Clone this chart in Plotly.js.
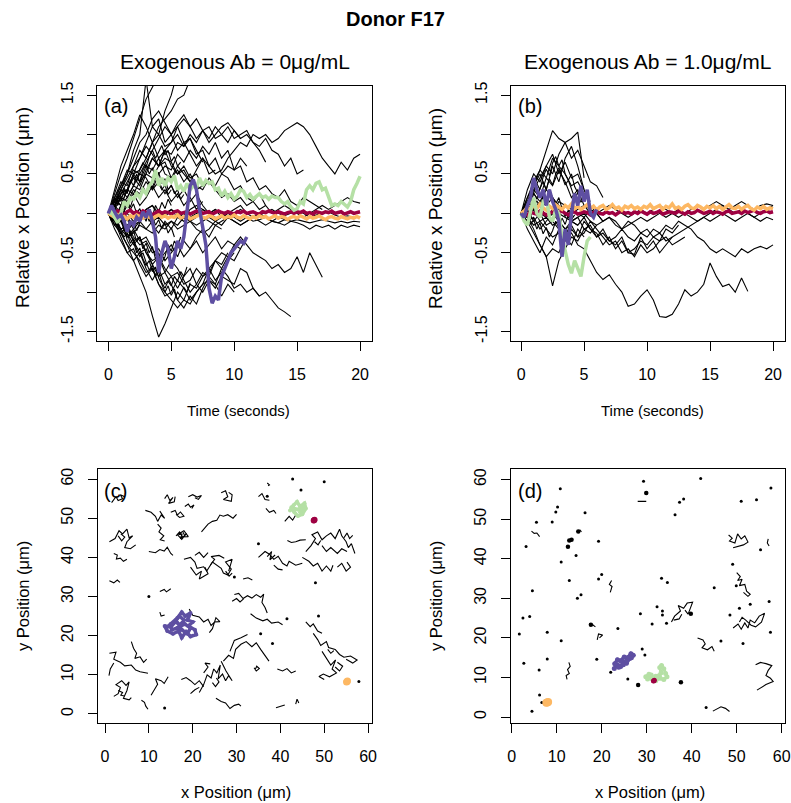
<!DOCTYPE html>
<html><head><meta charset="utf-8">
<script src="https://cdn.plot.ly/plotly-3.0.1.min.js"></script>
<style>html,body{margin:0;padding:0;background:#fff}</style>
</head><body><div id="chart" style="width:791px;height:803px"></div>
<script>
// ---------- DATA ----------
// time grids (seconds)
const T05 = [0,0.5,1,1.5,2,2.5,3,3.5,4,4.5,5,5.5,6,6.5,7,7.5,8,8.5,9,9.5,10,10.5,11,11.5,12,12.5,13,13.5,14,14.5,15,15.5,16,16.5,17,17.5,18,18.5,19,19.5,20];
const T025 = [0,0.25,0.5,0.75,1,1.25,1.5,1.75,2,2.25,2.5,2.75,3,3.25,3.5,3.75,4,4.25,4.5,4.75,5,5.25,5.5,5.75,6,6.25,6.5,6.75,7,7.25,7.5,7.75,8,8.25,8.5,8.75,9,9.25,9.5,9.75,10,10.25,10.5,10.75,11,11.25,11.5,11.75,12,12.25,12.5,12.75,13,13.25,13.5,13.75,14,14.25,14.5,14.75,15,15.25,15.5,15.75,16,16.25,16.5,16.75,17,17.25,17.5,17.75,18,18.25,18.5,18.75,19,19.25,19.5,19.75,20];

// panel (a): relative x position, black trajectories (0.5 s steps)
const blackA = [
 [0,0.1,0.25,0.3,0.5,0.4,0.6,0.55,0.7,0.5,0.45,0.6,0.5,0.4,0.55,0.7,0.6,0.5,0.55,0.7,0.8,0.9,0.85,1.0,0.95,1.0,0.9,0.95,1.05,1.1,1.15,1.1,1.0,0.85,0.7,0.6,0.5,0.65,0.55,0.7,0.75],
 [0,-0.05,0.1,0.2,0.35,0.3,0.5,0.7,0.6,0.8,0.75,0.9,0.85,1.0,0.9,1.05,1.1,0.95,1.0,1.1,0.95,1.0,1.05,0.9,0.8,0.65],
 [0,-0.1,-0.2,-0.15,-0.3,-0.4,-0.35,-0.5,-0.45,-0.6,-0.5,-0.4,-0.55,-0.45,-0.35,-0.5,-0.4,-0.3,-0.45,-0.35,-0.4,-0.3,-0.4,-0.5,-0.55,-0.6,-0.7,-0.65,-0.75,-0.7,-0.55,-0.75,-0.5,-0.65,-0.81],
 [0,0.05,-0.1,-0.2,-0.35,-0.3,-0.5,-0.6,-0.55,-0.7,-0.8,-0.75,-0.9,-0.85,-0.7,-0.8,-0.75,-0.6,-0.7,-0.8,-0.95,-0.9,-1.0,-0.95,-1.05,-1.0,-1.1,-1.2,-1.25,-1.31],
 [0,-0.15,-0.25,-0.4,-0.5,-0.6,-0.75,-0.7,-0.9,-1.0,-1.1,-1.2,-1.1,-1.15,-1.0,-0.9,-0.85,-0.95,-0.8,-0.85,-0.9,-0.7,-0.75,-0.95,-1.05],
 [0,-0.1,-0.3,-0.5,-0.6,-0.8,-1.0,-1.3,-1.57,-1.4,-1.2,-1.0,-1.1,-0.9,-0.95,-0.8,-0.7,-0.85,-0.75,-0.6,-0.5],
 [0,0.2,0.35,0.5,0.8,1.0,1.7,1.1,1.2,0.9,1.0,0.8,0.9,0.75,0.6,0.7,0.5,0.55],
 [0,0.1,0.3,0.45,0.6,0.7,0.9,1.1,1.0,1.3,1.5,1.8],
 [0,0.15,0.1,0.3,0.5,0.55,0.7,0.9,1.1,1.2,1.3,1.45,1.5,1.7,1.9],
 [0,0.3,0.6,0.8,1.0,1.25,1.1,0.9,0.7,0.8,0.6,0.5,0.55,0.4,0.3,0.35],
 [0,0.2,0.4,0.35,0.6,0.8,0.7,0.9,1.0,0.85,0.9,1.1,1.2,1.1,0.95,1.05,0.9,1.0,1.1,1.15,1.05,0.95,1.0,0.9,0.85,0.95,0.8,0.75,0.6,0.7,0.5,0.55],
 [0,0.1,0.2,0.3,0.25,0.4,0.5,0.45,0.6,0.7,0.65,0.5,0.6,0.45,0.5,0.35,0.4,0.3,0.2,0.25,0.15,0.2,0.1,0.15,0.05,0.1,0.0,0.05,0.1,0.05,0.0,-0.05,0.0,0.05,0.1,0.05,0.1,0.15,0.2,0.15,0.13],
 [0,0.05,-0.05,0.1,0.0,-0.1,0.05,0.1,-0.05,0.0,0.05,-0.05,-0.1,-0.05,0.0,-0.05,-0.1,-0.15,-0.1,-0.05,-0.1,-0.15,-0.1,-0.05,-0.1,-0.15,-0.1,-0.12,-0.15,-0.1,-0.12,-0.15,-0.2,-0.15,-0.18,-0.15,-0.2,-0.15,-0.18,-0.15,-0.17],
 [0,-0.05,0.05,0.0,-0.1,-0.05,0.05,0.1,0.0,-0.05,0.05,0.0,-0.05,0.05,0.1,0.05,0.0,0.05,0.0,-0.05,0.0,0.05,0.0,-0.05,-0.02,0.02,0.05,0.0,-0.03,0.0,0.03,0.0,-0.05,-0.02,0.0,0.02,-0.02,-0.05,-0.03,-0.05,-0.05],
 [0,-0.1,-0.2,-0.3,-0.25,-0.15,-0.2,-0.1,-0.05,-0.15,-0.1,-0.2,-0.15,-0.1,-0.2,-0.25,-0.2,-0.1,-0.15,-0.05,-0.1,-0.15,-0.1,-0.05,0.0,-0.05,-0.1,-0.05,-0.08,-0.1],
 [0,-0.2,-0.35,-0.5,-0.45,-0.65,-0.8,-0.7,-0.9,-1.05,-1.0,-0.85,-0.95,-1.1,-1.0,-0.9,-0.7,-0.6,-0.65,-0.5],
 [0,0.1,-0.1,-0.25,-0.4,-0.3,-0.5,-0.65,-0.55,-0.75,-0.9,-1.1,-1.2,-1.05,-1.15,-0.95,-0.8,-0.9,-0.7,-0.55,-0.6,-0.45],
 [0,0.2,0.1,0.3,0.45,0.35,0.55,0.7,0.6,0.8,0.9,1.0,0.85,0.95,0.75,0.8,0.6,0.7,0.5,0.45,0.3,0.35,0.2,0.15,0.25,0.1],
 [0,-0.1,0.05,-0.05,-0.2,-0.35,-0.3,-0.45,-0.6,-0.5,-0.4,-0.55,-0.35,-0.45,-0.3,-0.2,-0.3,-0.15,-0.2],
 [0,0.15,0.3,0.2,0.35,0.5,0.45,0.3,0.4,0.25,0.35,0.2,0.3,0.15,0.25,0.1,0.0,0.05,-0.05,0.0,0.05,0.1,0.0],
 [0,0.1,0.3,0.5,0.7,0.9,1.0,1.2,1.3,1.15,1.0,1.1,0.9,0.95,0.8,0.65],
 [0,0.25,0.5,0.7,0.95,1.2,1.45,1.6,1.75],
 [0,-0.05,-0.2,-0.15,-0.35,-0.5,-0.45,-0.65,-0.8,-0.75,-0.6,-0.7,-0.85,-1.0,-0.9,-0.75,-0.8,-0.6,-0.5,-0.55,-0.4,-0.45,-0.3],
 [0,0.05,0.2,0.15,0.3,0.25,0.4,0.3,0.5,0.6,0.55,0.75,0.65,0.8,0.7,0.85,0.75,0.9,0.7,0.8,0.55,0.6,0.4,0.45,0.3,0.35,0.25,0.2,0.3,0.15,0.1,0.2,0.15,0.1,0.05],
 [0,-0.15,-0.1,-0.3,-0.2,-0.1,0.0,-0.15,-0.25,-0.1,-0.2,-0.05,0.0,-0.1,-0.05,0.05,0.0,-0.05],
 [0,0.1,0.0,0.15,0.25,0.1,0.2,0.35,0.2,0.3,0.15,0.25,0.1,0.2,0.05,0.15],
 [0,-0.1,-0.25,-0.4,-0.6,-0.5,-0.7,-0.85,-0.7,-0.9,-0.8,-0.95,-0.8,-0.7,-0.9,-1.0,-0.85,-0.9,-1.05,-0.9,-1.0],
 [0,0.15,0.35,0.55,0.5,0.7,0.85,0.75,0.6,0.65,0.45,0.55,0.4,0.5,0.35,0.3,0.45,0.35,0.5,0.6,0.55,0.7,0.6],
 [0,0.05,-0.1,-0.05,-0.15,-0.1,-0.2,-0.25,-0.15,-0.2,-0.1,-0.15,-0.05,-0.1,-0.15,-0.1,-0.05,-0.1,-0.05,0.0,-0.05,-0.1,-0.05,-0.1,-0.08,-0.05,-0.1,-0.12,-0.08,-0.1,-0.08,-0.1,-0.12,-0.1,-0.08,-0.1,-0.12,-0.1,-0.12,-0.1,-0.11],
 [0,0.1,0.25,0.4,0.55,0.5,0.65,0.8,0.95,1.1,1.0,1.15,1.25,1.1,1.2,1.05,0.95,1.1,1.0,0.9,1.05,0.95]
];
// panel (a): short jagged black trajectories (0.25 s steps)
const blackAfine = [
 [0,0.12,0.05,0.22,0.15,0.3,0.25,0.42,0.35,0.5,0.4,0.55,0.62,0.5,0.58,0.45,0.52,0.38,0.44,0.3,0.36,0.25,0.3,0.18,0.24],
 [0,-0.08,0.02,-0.12,-0.05,-0.2,-0.14,-0.28,-0.22,-0.36,-0.3,-0.45,-0.38,-0.5,-0.42,-0.58,-0.5,-0.62,-0.55,-0.4,-0.48,-0.35,-0.42,-0.3],
 [0,0.05,0.15,0.1,0.24,0.32,0.26,0.4,0.48,0.4,0.56,0.64,0.58,0.72,0.8,0.7,0.78,0.86,0.74,0.8,0.66,0.72,0.6,0.65],
 [0,-0.06,-0.15,-0.1,-0.22,-0.3,-0.25,-0.38,-0.32,-0.46,-0.55,-0.5,-0.62,-0.72,-0.66,-0.8,-0.74,-0.88,-0.95,-0.86,-0.92,-0.8,-0.86,-0.74,-0.8,-0.68],
 [0,0.08,0.18,0.12,0.2,0.1,0.16,0.05,0.12,0.0,0.06,-0.05,0.02,-0.1,-0.04,-0.15,-0.08,-0.2,-0.12,-0.25,-0.18,-0.3],
 [0,-0.04,0.06,0.0,0.1,0.04,0.16,0.08,0.2,0.28,0.2,0.34,0.26,0.4,0.32,0.46,0.38,0.3,0.36,0.24,0.3],
 [0,0.1,0.02,-0.08,-0.02,-0.14,-0.06,-0.18,-0.1,-0.22,-0.12,-0.02,-0.1,0.04,-0.04,0.1,0.02,0.14,0.06,0.18,0.1],
 [0,-0.1,-0.04,-0.16,-0.26,-0.2,-0.34,-0.42,-0.36,-0.5,-0.44,-0.58,-0.66,-0.6,-0.74,-0.68,-0.82,-0.9,-1.0,-0.92,-1.04,-0.96,-1.1,-1.02,-0.94,-1.0,-0.88]
];
// panel (a): highlighted trajectories (0.25 s steps)
const redA = [0,0.02,-0.01,0.03,0.01,-0.02,0.02,0.04,0.0,0.02, -0.01,0.03,0.01,0.02,-0.02,0.01,0.03,0.0,0.02,0.01, -0.01,0.02,0.03,0.0,0.01,0.02,-0.01,0.01,0.03,0.02, 0.0,0.01,0.02,-0.01,0.01,0.03,0.01,0.0,0.02,0.01, -0.01,0.02,0.01,0.03,0.0,0.01,0.02,0.0,-0.01,0.02, 0.01,0.03,0.01,0.0,0.02,0.01,-0.01,0.01,0.02,0.0, 0.02,0.01,0.03,0.0,0.01,-0.01,0.02,0.01,0.0,0.02, 0.01,0.03,0.0,0.01,0.02,-0.01,0.01,0.02,0.0,0.01,0.02];
const orangeA = [0,-0.03,-0.05,-0.02,-0.06,-0.04,-0.07,-0.03,-0.05,-0.02, -0.04,-0.06,-0.03,-0.05,-0.07,-0.04,-0.02,-0.05,-0.03,-0.06, -0.04,-0.05,-0.02,-0.06,-0.04,-0.03,-0.07,-0.05,-0.04,-0.02, -0.05,-0.06,-0.03,-0.04,-0.07,-0.05,-0.03,-0.06,-0.04,-0.05, -0.02,-0.05,-0.06,-0.03,-0.05,-0.07,-0.04,-0.06,-0.03,-0.05, -0.04,-0.07,-0.05,-0.03,-0.06,-0.04,-0.05,-0.08,-0.05,-0.04, -0.06,-0.03,-0.05,-0.07,-0.04,-0.06,-0.05,-0.03,-0.06,-0.08, -0.05,-0.04,-0.06,-0.07,-0.04,-0.05,-0.07,-0.05,-0.06,-0.04,-0.06];
const greenA = [0,0.02,-0.05,-0.12,0.0,0.15,0.1,0.2,0.18,0.25, 0.2,0.3,0.25,0.35,0.4,0.55,0.35,0.45,0.35,0.45, 0.4,0.48,0.3,0.35,0.28,0.38,0.3,0.35,0.32,0.45, 0.35,0.42,0.38,0.4,0.3,0.32,0.22,0.28,0.2,0.25, 0.18,0.22,0.3,0.28,0.2,0.24,0.18,0.22,0.25,0.2, 0.22,0.18,0.22,0.2,0.2,0.15,0.12,0.15,0.08,0.04, 0.06,0.15,0.12,0.3,0.35,0.3,0.38,0.4,0.3,0.32, 0.22,0.1,0.12,0.1,0.15,0.12,0.08,0.15,0.3,0.38,0.47];
const purpleA = [0.0,0.1,0.02,-0.05,-0.02,-0.1,-0.23,-0.1,-0.15,-0.05, -0.1,0.02,-0.05,0.05,-0.1,-0.3,-0.75,-0.5,-0.35,-0.45, -0.7,-0.55,-0.35,-0.45,-0.3,0.0,0.35,0.43,0.3,0.05, -0.2,-0.4,-0.95,-1.14,-1.05,-1.1,-0.8,-0.7,-0.6,-0.5, -0.45,-0.4,-0.35,-0.38,-0.3];

// panel (b): black trajectories (0.5 s steps)
const blackB = [
 [0,0.05,-0.1,0.0,-0.15,-0.1,-0.2,-0.3,-0.25,-0.4,-0.45,-0.6,-0.75,-0.84,-0.78,-0.9,-1.0,-1.18,-1.15,-1.05,-0.97,-1.1,-1.31,-1.32,-1.28,-1.15,-0.97,-1.05,-1.0,-0.9,-0.63,-0.8,-0.93,-0.9,-1.0,-0.82,-0.99],
 [0,-0.1,-0.25,-0.4,-0.55,-0.92,-0.6,-0.45,-0.3,-0.35,-0.2,-0.25,-0.15],
 [0,0.2,0.4,0.55,0.8,1.05,0.95,0.9,0.7,0.8,0.6,0.4,0.35,0.2],
 [0,0.1,0.3,0.45,0.6,0.5,0.75,0.9,0.95,1.03,0.45],
 [0,0.2,0.35,0.5,0.3,0.6,0.4,0.7,0.85,0.6,0.3,0.1,0.0,-0.1],
 [0,0.15,0.3,0.2,0.45,0.35,0.55,0.4,0.2,0.3,0.1,0.0],
 [0,-0.05,0.05,-0.1,-0.05,-0.15,-0.1,-0.2,-0.1,-0.15,-0.05,-0.2,-0.3,-0.25,-0.35,-0.3,-0.2,-0.3,-0.35,-0.25,-0.3,-0.2,-0.25,-0.15,-0.2,-0.1,-0.15,-0.2,-0.3,-0.35,-0.45,-0.5,-0.45,-0.5,-0.55,-0.45,-0.5,-0.45,-0.42,-0.45,-0.4],
 [0,-0.05,-0.15,-0.1,-0.2,-0.3,-0.25,-0.35,-0.2,-0.3,-0.1,-0.2,-0.25,-0.4,-0.3,-0.45,-0.35,-0.5,-0.52,-0.3,-0.45,-0.35,-0.5,-0.4,-0.3],
 [0,0.05,0.1,0.0,-0.05,0.05,0.0,-0.05,-0.1,-0.05,0.0,-0.1,-0.15,-0.1,-0.05,-0.1,-0.2,-0.15,-0.1,-0.05,-0.1,-0.05,0.0,-0.05,0.0,0.05,0.0,-0.05,-0.1,-0.05,0.0,0.05,0.1,0.05,0.0,0.05,0.0,-0.05,0.0,0.05,0.1],
 [0,-0.1,0.05,0.1,-0.05,0.0,0.15,0.1,0.05,0.0,-0.05,0.05,0.0,-0.1,-0.05,-0.15,-0.2,-0.1,-0.15,-0.25,-0.2,-0.3,-0.25,-0.35,-0.3,-0.25,-0.2,-0.15,-0.1,-0.05,-0.1,-0.05,0.0,-0.05,-0.1,-0.05,0.0,-0.05,-0.1,-0.05,-0.08],
 [0,0.1,0.25,0.15,0.3,0.2,0.1,0.0,-0.1,-0.05,-0.2,-0.15,-0.3,-0.2,-0.35,-0.4,-0.3,-0.5,-0.45,-0.35,-0.4,-0.3,-0.35,-0.2,-0.25,-0.15],
 [0,0.3,0.5,0.4,0.6,0.75,0.5,0.65,0.45,0.5,0.3],
 [0,-0.2,-0.35,-0.5,-0.3,-0.4,-0.2,-0.3,-0.1,-0.15],
 [0,0.1,0.05,0.15,0.1,0.2,0.05,0.1,0.0,0.05,0.1,0.05,0.0,0.05,0.1,0.05,0.0,-0.05,0.0,0.05,0.0,0.05,0.1,0.05,0.0,-0.05,0.0,0.05,0.1,0.05,0.1,0.15,0.1,0.05,0.1,0.15,0.1,0.05,0.1,0.12,0.1],
 [0,0.15,0.35,0.55,0.45,0.7,0.6,0.5,0.35,0.4,0.25,0.15],
 [0,-0.05,-0.2,-0.4,-0.55,-0.45,-0.5,-0.3,-0.4,-0.2,-0.3],
 [0,-0.1,-0.05,-0.2,-0.1,0.0,-0.1,-0.2,-0.15,-0.3,-0.25,-0.1,-0.2,-0.3,-0.4,-0.35,-0.5,-0.45,-0.55,-0.4,-0.5,-0.45,-0.35,-0.3,-0.4,-0.35,-0.3]
];
const blackBfine = [
 [0,0.1,0.04,0.18,0.26,0.18,0.32,0.4,0.3,0.44,0.36,0.5,0.58,0.46,0.36,0.42,0.3,0.2,0.26,0.14,0.2],
 [0,-0.06,0.04,-0.04,0.08,0.16,0.08,0.22,0.14,0.3,0.2,0.12,0.2,0.06,-0.04,0.04,-0.08,-0.02],
 [0,0.06,0.16,0.1,0.26,0.38,0.3,0.46,0.56,0.48,0.64,0.72,0.6,0.68,0.5,0.42,0.5,0.34,0.26],
 [0,-0.08,-0.02,-0.14,-0.08,-0.2,-0.12,-0.26,-0.18,-0.3,-0.22,-0.1,-0.18,-0.06,-0.14,-0.02,-0.08]
];
const redB = [0,0.01,-0.02,0.02,0.0,-0.01,0.03,0.01,-0.02,0.0, 0.02,-0.01,0.01,0.03,0.0,-0.02,0.01,0.02,-0.01,0.0, 0.02,0.01,-0.02,0.01,0.03,0.0,-0.01,0.02,0.0,0.01, -0.02,0.01,0.03,0.0,0.01,-0.01,0.02,0.0,0.03,0.01, -0.01,0.02,0.0,0.01,0.03,-0.01,0.0,0.02,0.01,0.0, 0.03,0.01,-0.01,0.02,0.0,0.01,0.04,0.02,0.0,0.01, 0.03,0.0,0.02,0.01,-0.01,0.02,0.03,0.0,0.01,0.02, 0.0,0.03,0.01,0.02,0.04,0.01,0.0,0.02,0.03,0.01,0.02];
const orangeB = [0,0.03,0.08,0.05,0.1,0.06,0.12,0.07,0.04,0.09, 0.06,0.11,0.08,0.05,0.1,0.07,0.12,0.06,0.09,0.05, 0.08,0.11,0.06,0.09,0.04,0.08,0.1,0.05,0.07,0.11, 0.06,0.08,0.04,0.09,0.07,0.1,0.06,0.08,0.05,0.09, 0.07,0.11,0.06,0.08,0.1,0.05,0.09,0.07,0.12,0.06, 0.08,0.05,0.09,0.11,0.07,0.06,0.1,0.08,0.05,0.09, 0.07,0.1,0.06,0.09,0.05,0.08,0.11,0.07,0.06,0.09, 0.05,0.08,0.1,0.06,0.04,0.08,0.06,0.09,0.05,0.07,0.06];
const greenB = [0,-0.1,-0.15,0.05,0.2,0.0,-0.05,0.15,0.2,-0.05, -0.1,0.05,0.0,-0.3,-0.5,-0.65,-0.76,-0.6,-0.7,-0.8, -0.55,-0.35,-0.3];
const purpleB = [0,-0.05,0.1,0.2,0.45,0.3,0.2,0.3,0.1,0.3, 0.15,0.05,-0.1,-0.55,-0.2,-0.4,0.0,0.25,0.1,0.35, 0.15,0.3,0.0,-0.05,0.05];

// panel (c): x,y positions (µm) of trajectories
const pathsC = [
 [[1.5,54],[2.5,55.5],[3,54.5],[4,55],[3.5,56],[4.5,55.5]],
 [[13.6,55],[14.2,56],[14.8,54.5],[15.5,55.3],[14.5,53.8],[15.8,54.2],[16,55.5]],
 [[19,55.5],[20,56],[21,55.4],[22,55.8],[21.3,54.8],[20.5,55.2]],
 [[26.5,56.5],[27.5,57],[28,55.5],[27,54.8],[28.8,54.3],[29,56],[28.2,56.6]],
 [[15,51.5],[16,52],[16.5,50.8],[17.2,51.6],[18,50.5],[17,50.2],[16.2,51]],
 [[9.2,52],[10.5,51.5],[11.5,50.5],[12,49.2],[12.8,50.8],[13.6,50],[12.5,51.8]],
 [[18.2,53],[19,53.6],[19.5,52.8],[20.3,53.4],[19.8,52.5]],
 [[22,46.5],[23,47.8],[23.5,48.5],[24.5,49.2],[25.5,49.5],[26.2,50.8],[27,50.5],[28,50.9],[29.2,50],[30,51]],
 [[16.2,45.5],[17,46.5],[17.8,45],[18.6,46.2],[17.5,44.6],[16.5,45.8],[18,46.8],[19,45.3],[17.2,45.2]],
 [[16.8,45.8],[17.6,46],[17.2,44.8],[18.2,45.5],[17.8,46.4]],
 [[12,48.5],[12.8,47.5],[12.3,46.5],[13.4,45.5],[12.6,44.5],[13.6,44.2]],
 [[1,44],[2.3,44.8],[3.2,46.8],[4,46],[5,47.2],[5.5,45],[6.3,45.5],[5,44],[4.5,42.5],[5.8,42.2],[7,43.2]],
 [[3,45.5],[3.8,44.2],[4.5,45.2],[3.6,46]],
 [[2,41],[2.8,40.6],[2.6,39.6],[3.5,39.8],[4.2,39],[5,39.5]],
 [[10,41.5],[11.5,41.2],[12.5,42],[13.5,41.6],[14.2,42.6],[15,41],[15.5,40.5]],
 [[18,39.5],[19.5,40],[20.5,38.8],[21,37.2],[22.5,37.6],[23.2,36.5],[24.5,38.8],[25.5,38],[26.5,37.2],[27,36],[28,35.5],[28.8,37],[27.5,38.8],[29,39.5],[28.2,36.5]],
 [[19.5,37.5],[20.8,35.5],[22,36.5],[21.5,34.5],[23.5,35.8],[22.8,37.5]],
 [[24,38],[25,39.5],[24.2,40.2],[26,40.5],[27.2,39.8]],
 [[20.5,40.5],[21.5,41.3],[22.5,40],[23.5,41.2]],
 [[27.5,36.5],[28.3,35.2],[29,36]],
 [[1,34],[2,33.5],[2.8,34.2],[3.4,33.6]],
 [[12.5,31.3],[13.5,31.8],[14,31.2],[15,32]],
 [[31.5,34.5],[32.6,34.8],[33.6,34.2]],
 [[29.5,30.5],[30.5,30.8],[31.5,29.5],[32.5,30.2],[33.5,29.6],[34.5,30.5],[35.5,29.8],[36.2,30.6],[35.8,28.5],[36.5,27.2],[37,25.8]],
 [[29,28.8],[30,29.5],[30.8,28.6],[31.6,29.4]],
 [[12.5,26],[12.8,25],[13.6,25.3]],
 [[19.2,26.8],[20,25.2],[21.5,24.8],[22.5,23.5],[23.5,24.2],[24.2,22.6],[25,23.5],[26.2,23.6],[25.3,24.6],[24.5,21.8],[23.8,20.8]],
 [[33.2,25.6],[34.5,24.5],[36,23.8],[37,24.2],[38,23.2],[39.5,23.5],[40.5,22.8]],
 [[45.8,23.5],[46.8,22.3],[47.5,23],[48.5,21.2],[49.5,20.6]],
 [[47.5,20.6],[48.5,19],[49.2,17.5],[50.5,18.5],[51,17],[52.5,16.5],[53.5,15.2],[54.5,14.5],[56,14.8],[57.5,13.8],[56.5,13],[55,14]],
 [[49.5,16],[50.5,14.2],[51.5,12.5],[52.6,13.8],[51.8,11.5],[52.8,10.5],[51.2,9.5],[49.8,10.2],[48.8,9.6],[50,8.8]],
 [[52.5,12],[53.5,11],[54.2,12.2],[53,13.2]],
 [[50.8,16.5],[51.5,15.5],[52.2,16.2]],
 [[1,15.5],[2.5,15.8],[2,14],[3.5,13.2],[4.5,12.3],[6,12.5],[7,11.2],[8,10.8],[9.8,10.4]],
 [[2,13],[1.2,11.5],[0.9,9.8]],
 [[6,18.5],[6.5,16.8],[7.2,15.5],[6.8,14.2],[8,14.6],[8.8,13.2],[9.5,14]],
 [[2,4.5],[3,5.2],[3.5,6.8],[2.5,7.5],[3.8,8.5],[4.8,7.3],[5.5,8.2],[5,6],[4.2,4],[5.5,3.6],[6,4.2]],
 [[3,6],[4,5.5],[3.6,4.8],[4.4,4.6]],
 [[8.3,3.5],[9,3],[9.3,2],[9.8,1.2]],
 [[10.5,4.8],[11.3,6.5],[12,7.6],[11.5,9],[12.8,8.5],[13.5,7.8],[14.4,9.5]],
 [[17.4,8.8],[18.5,9.3],[19.5,8.5],[20.5,7.5],[21.5,8.5],[22.5,7]],
 [[19.5,5.2],[20.5,6.2],[21.5,6.8]],
 [[21.5,5.5],[22.5,7.5],[23.3,10],[24.2,9.2],[24.8,11.5],[25.5,10.5],[26.3,12.5],[25.8,9],[26.8,10.2],[27.5,8.5],[28.2,9.8],[29,8.5],[27.6,11],[26.5,13.5]],
 [[22.5,10.5],[23.5,12],[22.8,13],[24,12.8]],
 [[24.5,8],[25.2,7],[26,8.2],[25.4,9.2]],
 [[27,13.5],[28.2,15],[29.3,14.2],[29.8,16.5],[31,17.8],[32.2,18.5],[33.5,17.2],[34.5,18.2],[35.5,16.5],[36.5,14.8],[37.4,13.5]],
 [[28.5,16],[29.5,18.8],[31,19.5],[32.5,20.3]],
 [[25.3,4],[26.5,3.2],[27.5,2.8],[28.5,1.4],[29.5,2.2],[30.5,2.5],[31,2]],
 [[34,11.8],[34.5,11],[35.2,11.6],[34.6,12.2],[34.2,11.2]],
 [[39.3,11.5],[40.5,11],[41.5,11.6],[42.5,10.5],[43.5,11]],
 [[39,1.6],[40,2],[41,2.3]],
 [[43.5,2.5],[43.8,3.8],[44.2,2.8]],
 [[35,55.5],[35.8,56.3],[36.5,54.8],[37.5,54.6]],
 [[36.7,52.5],[37.5,51.5],[38.5,52],[39,51.2]],
 [[37,59],[37.5,58.5],[37.2,58.3]],
 [[41,49.2],[42,50.5],[42.8,49.5],[43.5,50.8]],
 [[41.6,44.3],[42.5,43.8],[43.5,44],[44.5,44.4],[45.8,44.5]],
 [[45.8,41.5],[47,43],[48,44.8],[47.2,45.8],[48.5,46.5],[49.5,44.5],[50.5,45.5],[51.5,46.2],[52.5,44.8],[53.5,47.2],[54,45.5],[55,44],[55.5,42.5],[56.2,43.5],[57,41]],
 [[47.8,44],[48.6,43.2],[49.2,44.3]],
 [[54.5,45],[55.2,46.2],[55.8,44.8],[56.5,45.6]],
 [[49.5,43],[50.5,41.5],[51.5,42.5],[53,41],[54,42.2],[55.2,41.5]],
 [[35,40],[36.5,41.5],[37.5,40.8],[38.5,39.5],[39.5,40.3],[40.5,38.5],[41.5,37.8],[42,39],[43.5,38],[45,38.5]],
 [[37,40.2],[38,41.5],[37.6,39.4],[38.8,40.6]],
 [[38.5,38],[39.5,37],[40.5,36.8]],
 [[45,40],[46.5,39],[47.5,37.8],[48.5,38.5],[49.5,36.5],[50.5,37.8],[51.5,36.5],[52,38]],
 [[53,37.5],[54,38.5],[55,36.5],[56,37.5],[55.2,38.8]]
];
const dotsC = [[10,30],[29.5,35],[48,33.5],[48.7,25],[35.5,20.5],[38.2,18],[41.5,24.3],[35,43.5],[57.9,8.3],[42.8,60],[44.7,57.2],[50,59.3],[13.6,1.5],[37,55.6]];
const purpleC = [[14,22],[15,23],[16.5,24.5],[17.5,26],[18.3,25],[19.5,25.8],[18.8,24],[20,23.5],[19,22.5],[20.5,21.5],[20.8,20.3],[19.5,19.8],[18.5,21],[17.5,19.5],[16.8,21.2],[15.5,20.5],[14.2,21.2],[13.6,22.5],[15,22.2],[16,23.5],[17.2,22.8],[18,24],[17,25],[16.2,24],[17.5,21.5],[18.8,20.5],[19.5,22],[18.2,23],[16.5,22],[15.2,21.5]];
const greenC = [[42.2,52],[43,53.3],[43.8,54.2],[44.5,53],[45.5,53.8],[45.8,52.5],[45,51],[44,50.6],[43.2,51.5],[42.5,52.8],[44,52.2],[45,52.8],[44.5,51.5]];
const redC = [[47.6,49.4],[47.8,49.6],[47.7,49.5]];
const orangeC = [[55.1,8.2],[55.3,8.4],[55.2,8.3]];

// panel (d)
const pathsD = [
 [[4.4,47],[5,46.4],[5.6,46.5],[6.2,45.6]],
 [[14.5,46.9],[15.2,47.2],[15.5,46.8]],
 [[21.9,31.5],[22.3,33],[21.7,33.5],[22.2,34.5]],
 [[17.2,23.6],[18,23.3],[18.6,22.8]],
 [[19,19.5],[19.3,21],[20.2,20.7],[19.5,20]],
 [[12.3,9.5],[12.1,10.5],[12.8,11],[12.4,12],[13,12.8],[12.7,13.8]],
 [[28,54.5],[29.9,54.5]],
 [[35.5,24],[36.2,25.5],[37.5,26.8],[37,28.2],[38.2,27.5],[39,28.8],[40.2,29],[39.2,26],[38.5,27]],
 [[36,24.5],[37.2,24.8],[37.8,26]],
 [[41.3,20],[42.5,19.5],[43,18.5],[42.3,17.5],[43.5,17],[44.5,17.8],[45,16.6]],
 [[44.7,1.5],[45.5,2],[46.5,2.6],[47.5,2.2],[48.4,1.4]],
 [[48.2,46],[49,45.2],[48.4,44.5],[49.6,44],[50.2,46.3],[51,45],[51.8,45.8],[52.5,44.2],[51.5,43.5],[50.5,43.2],[49.2,42.8]],
 [[57,45],[56.8,44],[57.2,43.2]],
 [[50,36.5],[50.8,35.5],[50.2,34.5],[51.2,34.8],[50.6,33.2],[51.8,33.5],[52.2,31.8],[53,31],[52.5,30.5],[51.5,31.5]],
 [[49.2,22.5],[50.3,23.5],[51,22.2],[51.8,23.8],[52.5,22.5],[53,24.5],[54,23.8],[55,25.5],[56.2,26.2],[55.5,24],[54.2,22.8],[53.2,23.2],[52,24.5],[51.2,25.2],[50.6,24]],
 [[54.2,13.2],[55.3,13.8],[56.5,13.5],[57.8,13],[57,11.8],[56.5,10.5],[57.5,9.8],[58.1,9],[56.5,8.2],[55.5,7.5],[54.5,6.8]]
];
const dotsD = [[10.8,57.7],[10.2,53.1],[9.8,51.8],[5.5,49.2],[9,49.3],[16.3,51.6],[3.2,43.1],[14.3,40.8],[11,39.2],[19.3,44.4],[4.6,31.9],[12.8,34.5],[15.4,30.9],[14.6,30],[19.3,34.9],[20,36],[2.5,25],[4,25.4],[1.7,21],[7.9,21.4],[11,19.3],[23.6,22.4],[2.7,13.6],[6.1,11.9],[7.9,14.7],[6.2,5.6],[6.7,3.7],[4.5,1.5],[18.9,14.6],[22,11.3],[25.8,9.6],[29,17.2],[29.6,15.7],[28.6,26.1],[29.3,59.6],[32.3,27.9],[33.5,26.8],[33.5,25.8],[31.2,23.5],[34.4,23.7],[33.3,35.1],[34.6,34],[37.3,54.3],[38.2,55.1],[36.3,51.1],[42,60.3],[45,32.7],[46.5,19.2],[43.2,2.4],[51,54.5],[54.4,54.9],[57.6,57.9],[55.3,42.3],[49.1,38.6],[49.9,33.2],[53,28.5],[57.2,29.2],[48.5,25.8],[50.6,27.5],[51.4,18.6],[57.5,21.4]];
const blobsD = [[12.8,44.6],[13.3,44.8],[12.5,43],[14.8,46.9],[28.1,8.1],[37.6,8.8],[29.9,56.6],[17.6,23.3],[39.8,26.1]];
const purpleD = [[22.8,12.3],[23.5,13.2],[24.2,12.8],[24.8,14],[25.5,13.6],[26.2,14.8],[27,15.6],[26.5,16],[25.8,15],[25,15.2],[24.2,14.2],[23.5,14.5],[22.9,13.5],[23.8,12.6],[24.8,13.2],[25.6,14.3],[26.6,15]];
const greenD = [[29.8,10.2],[30.5,10.8],[31.2,9.6],[32,10.3],[32.8,10.5],[33.2,11.2],[32.9,12.5],[33.3,13],[33.8,12.2],[34.2,11],[34.5,10.2],[33.8,9.5],[33,9.8],[32,9.2],[31,10.6],[30.2,9.6]];
const redD = [[31.5,9.1],[31.7,9.3],[31.6,9.2]];
const orangeD = [[7.7,3.6],[8.1,3.8],[7.9,3.7]];

// ---------- BUILD ----------
const COL = {purple:'#5E4FA2', green:'#B5E0A5', orange:'#FDB863', red:'#9E0142'};
const W = 791, H = 803;
const px = v => v / W, py = v => 1 - v / H;

function tsMulti(list, T, color, width, ax) {
  const x = [], y = [];
  list.forEach(s => { s.forEach((v, i) => { x.push(T[i]); y.push(v); }); x.push(null); y.push(null); });
  return {type:'scatter', mode:'lines', x, y, xaxis:'x'+ax.x, yaxis:'y'+ax.y,
    line:{color, width}, hoverinfo:'skip', showlegend:false, connectgaps:false};
}
function ts(s, T, color, width, ax) { return tsMulti([s], T, color, width, ax); }
function xyMulti(list, color, width, ax, mode, msize) {
  const x = [], y = [];
  list.forEach(p => { p.forEach(q => { x.push(q[0]); y.push(q[1]); }); x.push(null); y.push(null); });
  const t = {type:'scatter', mode: mode || 'lines', x, y, xaxis:'x'+ax.x, yaxis:'y'+ax.y,
    line:{color, width}, hoverinfo:'skip', showlegend:false, connectgaps:false};
  if (msize) t.marker = {color, size: msize};
  return t;
}
function pts(list, color, size, ax) {
  return {type:'scatter', mode:'markers', x:list.map(p=>p[0]), y:list.map(p=>p[1]),
    xaxis:'x'+ax.x, yaxis:'y'+ax.y, marker:{color, size, line:{width:0}}, hoverinfo:'skip', showlegend:false};
}
const A = {x:'', y:''}, B = {x:'2', y:'2'}, C = {x:'3', y:'3'}, D = {x:'4', y:'4'};

const traces = [
  tsMulti(blackA, T05, '#000', 1.1, A),
  tsMulti(blackAfine, T025, '#000', 1.1, A),
  ts(redA, T025, COL.red, 3.5, A),
  ts(orangeA, T025, COL.orange, 3.5, A),
  ts(greenA, T025, COL.green, 3.5, A),
  ts(purpleA, T025, COL.purple, 3.5, A),
  tsMulti(blackB, T05, '#000', 1.1, B),
  tsMulti(blackBfine, T025, '#000', 1.1, B),
  ts(redB, T025, COL.red, 3.5, B),
  ts(orangeB, T025, COL.orange, 3.5, B),
  ts(greenB, T025, COL.green, 3.5, B),
  ts(purpleB, T025, COL.purple, 3.5, B),
  xyMulti(pathsC, '#000', 1.1, C),
  pts(dotsC, '#000', 3, C),
  xyMulti([purpleC], COL.purple, 3.5, C, 'lines+markers', 4),
  xyMulti([greenC], COL.green, 3.5, C, 'lines+markers', 4),
  pts(redC, COL.red, 6, C),
  pts(orangeC, COL.orange, 7, C),
  xyMulti(pathsD, '#000', 1.1, D),
  pts(dotsD, '#000', 3, D),
  pts(blobsD, '#000', 4.5, D),
  xyMulti([purpleD], COL.purple, 3.5, D, 'lines+markers', 5),
  xyMulti([greenD], COL.green, 3, D, 'lines+markers', 5),
  pts(redD, COL.red, 5, D),
  pts(orangeD, COL.orange, 8, D)
];

const FONT = 'Liberation Sans, Arial, Helvetica, sans-serif';
const tf = {family: FONT, size: 16, color:'#000'};
function xax(dom, range, vals, anchor) {
  return {domain: dom, range, anchor, tickvals: vals, ticktext: vals.map(String), showgrid:false, zeroline:false,
    showline:true, mirror:true, linecolor:'#000', linewidth:1, ticks:'outside', ticklen:9, tickcolor:'#000', tickwidth:1,
    tickfont: tf, ticklabelstandoff: 10, fixedrange:true};
}
function yax(dom, range, vals, text, anchor) {
  return {domain: dom, range, anchor, tickvals: vals, ticktext: text, showgrid:false, zeroline:false,
    showline:true, mirror:true, linecolor:'#000', linewidth:1, ticks:'outside', ticklen:9, tickcolor:'#000', tickwidth:1,
    tickfont: tf, tickangle:-90, ticklabelstandoff: 8, fixedrange:true};
}
const yTopVals = [-1.5,-1,-0.5,0,0.5,1,1.5];
const yTopText = ['-1.5','','-0.5','','0.5','','1.5'];
const posVals = [0,10,20,30,40,50,60];
const domTop = [py(341), py(85.7)], domBot = [py(723), py(468.5)];

const ann = [];
function label(text, x, y, size, opts) {
  ann.push(Object.assign({text, x: px(x), y: py(y), xref:'paper', yref:'paper', showarrow:false,
    font:{family: FONT, size, color:'#000'}, xanchor:'center', yanchor:'middle'}, opts || {}));
}
label('Exogenous Ab = 0μg/mL', 235, 62, 21);
label('Exogenous Ab = 1.0μg/mL', 647, 62, 21);
label('Time (seconds)', 238, 410, 15);
label('Time (seconds)', 652, 410, 15);
label('x Position (μm)', 236, 792, 16.5);
label('x Position (μm)', 650, 792, 16.5);
label('Relative x Position (μm)', 23, 208, 19, {textangle:-90});
label('Relative x Position (μm)', 436, 208, 19, {textangle:-90});
label('y Position (μm)', 23, 596, 16.5, {textangle:-90});
label('y Position (μm)', 436, 596, 16.5, {textangle:-90});
label('(a)', 102, 106, 20, {xanchor:'left'});
label('(b)', 516, 106, 20, {xanchor:'left'});
label('(c)', 102, 491, 20, {xanchor:'left'});
label('(d)', 516, 491, 20, {xanchor:'left'});

const layout = {
  width: W, height: H, margin:{l:0, r:0, t:0, b:0}, paper_bgcolor:'#fff', plot_bgcolor:'#fff',
  showlegend:false,
  title:{text:'<b>Donor F17</b>', x:0.5, xanchor:'center', y: py(19), yanchor:'middle', font:{family: FONT, size:20, color:'#000'}},
  xaxis: xax([px(97), px(372)], [-0.9, 20.95], [0,5,10,15,20], 'y'),
  yaxis: yax(domTop, [-1.62, 1.62], yTopVals, yTopText, 'x'),
  xaxis2: xax([px(511), px(785)], [-0.8, 20.95], [0,5,10,15,20], 'y2'),
  yaxis2: yax(domTop, [-1.62, 1.62], yTopVals, yTopText, 'x2'),
  xaxis3: xax([px(97.7), px(372)], [-1.67, 60.9], posVals, 'y3'),
  yaxis3: yax(domBot, [-2.3, 62.7], posVals, posVals.map(String), 'x3'),
  xaxis4: xax([px(510.7), px(785)], [-0.22, 60.73], posVals, 'y4'),
  yaxis4: yax(domBot, [-1.5, 62.8], posVals, posVals.map(String), 'x4'),
  annotations: ann
};
Plotly.newPlot('chart', traces, layout, {staticPlot:true, displayModeBar:false});
</script></body></html>
